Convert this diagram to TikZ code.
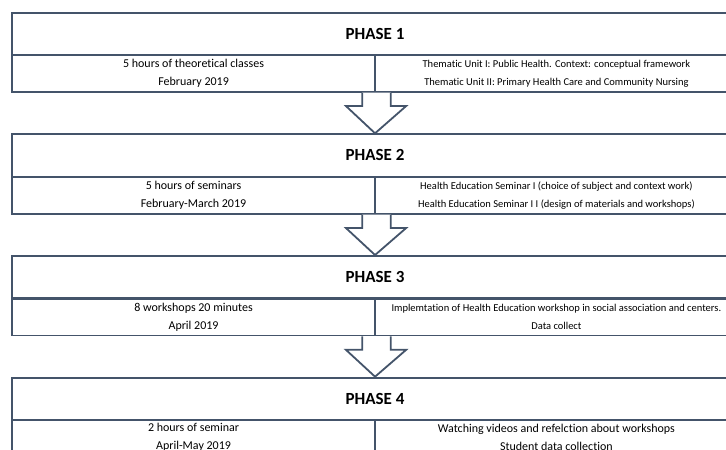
\documentclass[tikz,border=0pt]{standalone}
\usepackage{fontspec}
\setmainfont[Ligatures=NoCommon]{Carlito}
\usetikzlibrary{calc}
\definecolor{frame}{HTML}{44546A}
\begin{document}
\begin{tikzpicture}[x=1pt,y=-1pt,
 cell/.style={draw=frame,line width=1.8pt,rectangle,anchor=north west,inner sep=0pt,align=center,text=black},
 head/.style={cell,minimum width=725.7pt,minimum height=42.4pt,font=\fontsize{17}{20}\selectfont\bfseries},
 leftcell/.style={cell,minimum width=362.7pt,minimum height=36.4pt,font=\fontsize{12}{18}\selectfont},
 rightcell/.style={cell,minimum width=363pt,minimum height=36.4pt,font=\fontsize{10.5}{18}\selectfont},
 bigright/.style={rightcell,font=\fontsize{12}{18}\selectfont},
 arrowline/.style={draw=frame,line width=1.8pt,fill=white,line join=miter}]
\clip (0,0) rectangle (726,450);
% Phase 1
\node[head] (h1) at (11.3,12) {PHASE 1};
\node[leftcell] (l1) at (11.3,54.4) {5 hours of theoretical classes\\February 2019};
\node[rightcell] (r1) at (374,54.4) {Thematic Unit I: Public Health. Context: conceptual framework\\Thematic Unit II: Primary Health Care and Community Nursing};
% Phase 2
\node[head] (h2) at (11.3,133.3) {PHASE 2};
\node[leftcell] (l2) at (11.3,176.4) {5 hours of seminars\\February-March 2019};
\node[rightcell] (r2) at (374,176.4) {Health Education Seminar I (choice of subject and context work)\\Health Education Seminar I I (design of materials and workshops)};
% Phase 3
\node[head] (h3) at (11.3,255) {PHASE 3};
\node[leftcell] (l3) at (11.3,298.2) {8 workshops 20 minutes\\April 2019};
\node[rightcell] (r3) at (374,298.2) {Implemtation of Health Education workshop in social association and centers.\\Data collect};
% Phase 4
\node[head] (h4) at (11.3,376.7) {PHASE 4};
\node[leftcell] (l4) at (11.3,418.5) {2 hours of seminar\\April-May 2019};
\node[bigright] (r4) at (374,418.5) {Watching videos and refelction about workshops\\Student data collection};
% Arrows
\foreach \a/\b in {l1/h2,l2/h3,l3/h4}{
  \path[arrowline] ($(\a.south east)+(-13.6,0)$) |- ($(\a.south east)+(-30,13.3)$)
     -- (\b.north) -- ($(\a.south east)+(30.5,13.3)$) -| ($(\a.south east)+(15,0)$);
}
\end{tikzpicture}
\end{document}
